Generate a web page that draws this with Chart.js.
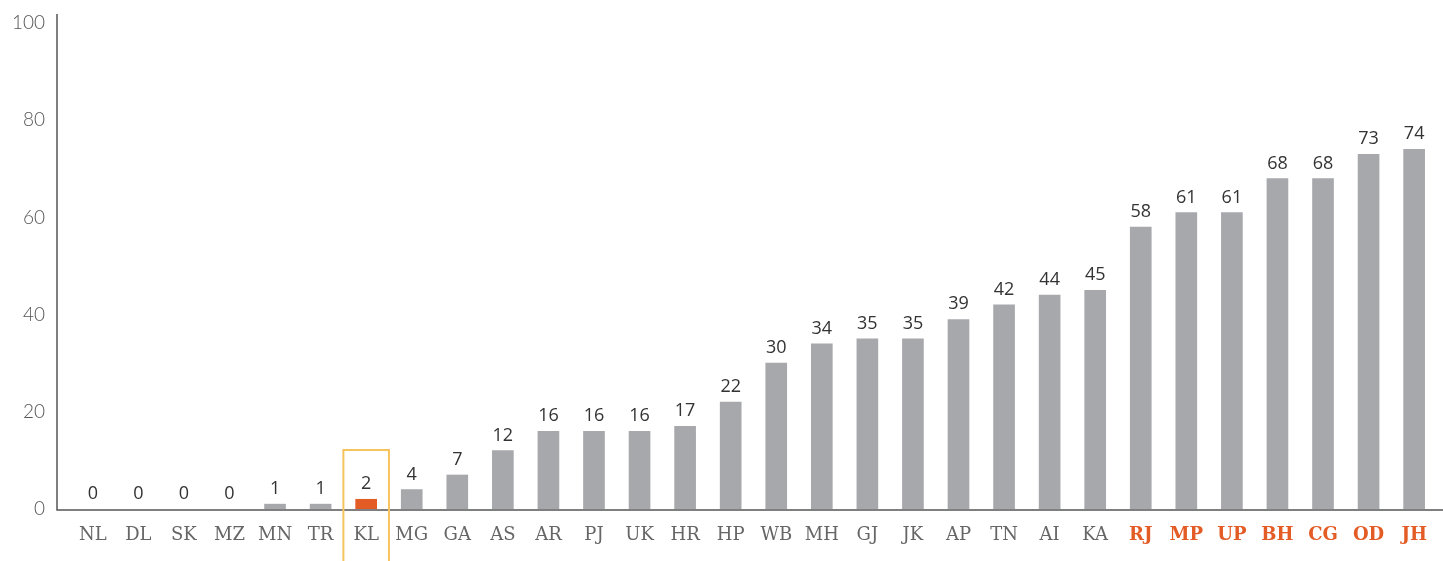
<!DOCTYPE html>
<html>
<head>
<meta charset="utf-8">
<script src="https://cdn.jsdelivr.net/npm/chart.js@4"></script>
<style>
  html, body { margin: 0; padding: 0; background: #fff; }
  #wrap { width: 1443px; height: 561px; }
</style>
</head>
<body>
<div id="wrap"><canvas id="chart"></canvas></div>
<script>
// states, sorted by value
const states = ['NL', 'DL', 'SK', 'MZ', 'MN', 'TR', 'KL', 'MG', 'GA', 'AS', 'AR', 'PJ', 'UK', 'HR', 'HP',
  'WB', 'MH', 'GJ', 'JK', 'AP', 'TN', 'AI', 'KA', 'RJ', 'MP', 'UP', 'BH', 'CG', 'OD', 'JH'];
const values = [0, 0, 0, 0, 1, 1, 2, 4, 7, 12, 16, 16, 16, 17, 22,
  30, 34, 35, 35, 39, 42, 44, 45, 58, 61, 61, 68, 68, 73, 74];
const yTicks = [0, 20, 40, 60, 80, 100];
const orangeLabels = ['RJ', 'MP', 'UP', 'BH', 'CG', 'OD', 'JH'];
const orangeBars = ['KL'];
const boxed = ['KL'];

const GRAY = '#a7a8ac';
const ORANGE = '#e35b25';
const AXIS = '#555555';

// value labels above bars
const valueLabels = {
  id: 'valueLabels',
  afterDatasetsDraw(chart) {
    const ctx = chart.ctx;
    const meta = chart.getDatasetMeta(0);
    ctx.save();
    ctx.font = '18px "Open Sans"';
    ctx.fillStyle = '#333';
    ctx.textAlign = 'center';
    ctx.textBaseline = 'alphabetic';
    meta.data.forEach((bar, i) => {
      ctx.fillText(String(values[i]), bar.x, bar.y - 10);
    });
    ctx.restore();
  }
};

// axis lines + highlight box
const frame = {
  id: 'frame',
  afterDraw(chart) {
    const { ctx, chartArea, scales } = chart;
    const x = scales.x;
    ctx.save();
    ctx.strokeStyle = AXIS;
    ctx.lineWidth = 1.5;
    ctx.beginPath();
    ctx.moveTo(57, 14);
    ctx.lineTo(57, chartArea.bottom + 1);
    ctx.lineTo(chart.width, chartArea.bottom + 1);
    ctx.stroke();

    const w = x.width / states.length;
    ctx.strokeStyle = '#f7c35c';
    ctx.lineWidth = 2;
    boxed.forEach(s => {
      const cx = x.getPixelForValue(states.indexOf(s));
      ctx.beginPath();
      ctx.moveTo(cx - w / 2, chart.height + 2);
      ctx.lineTo(cx - w / 2, chartArea.bottom - 59);
      ctx.lineTo(cx + w / 2, chartArea.bottom - 59);
      ctx.lineTo(cx + w / 2, chart.height + 2);
      ctx.stroke();
    });
    ctx.restore();
  }
};

new Chart(document.getElementById('chart'), {
  type: 'bar',
  data: {
    labels: states,
    datasets: [{
      data: values,
      backgroundColor: states.map((s, i) => values[i] === 0 ? 'rgba(0,0,0,0)'
        : orangeBars.includes(s) ? ORANGE : GRAY),
      barThickness: 21,
      borderWidth: 0
    }]
  },
  options: {
    responsive: true,
    maintainAspectRatio: false,
    animation: false,
    layout: { padding: { top: 0, right: 6 } },
    plugins: { legend: { display: false }, tooltip: { enabled: false } },
    scales: {
      x: {
        grid: { display: false, drawTicks: false },
        border: { display: false },
        afterFit: s => { s.height = 52; },
        ticks: {
          padding: 16,
          autoSkip: false,
          maxRotation: 0,
          font: ctx => orangeLabels.includes(states[ctx.index])
            ? { family: 'DejaVu Serif', size: 18, weight: 'bold' }
            : { family: 'DejaVu Serif', size: 18 },
          color: ctx => orangeLabels.includes(states[ctx.index]) ? ORANGE : '#666'
        }
      },
      y: {
        min: 0,
        max: 100,
        afterFit: s => { s.width = 70; s.paddingTop = 23; s.paddingBottom = 0; },
        afterBuildTicks: s => { s.ticks = yTicks.map(v => ({ value: v })); },
        grid: { display: false, drawTicks: false },
        border: { display: false },
        ticks: {
          padding: 25,
          font: { family: 'Lato', size: 19, weight: 300 },
          color: '#555'
        }
      }
    }
  },
  plugins: [valueLabels, frame]
});
</script>
</body>
</html>
